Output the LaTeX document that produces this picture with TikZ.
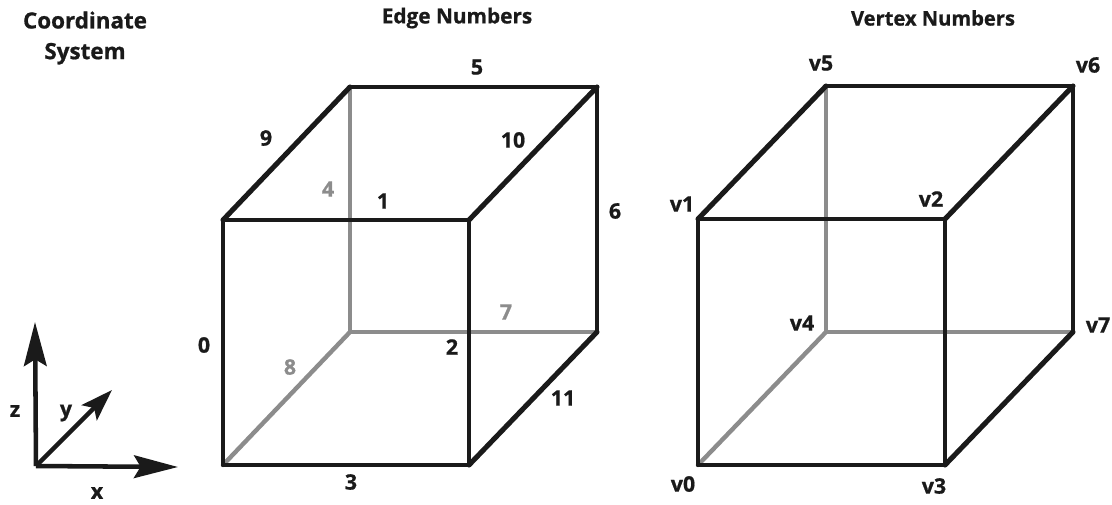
\documentclass[tikz,border=0pt]{standalone}
\usepackage{fontspec}
\setmainfont{Open Sans}[FakeBold=0.8]
\usetikzlibrary{arrows.meta}
\definecolor{ink}{HTML}{1A1A1A}
\definecolor{hid}{HTML}{8C8C8C}
\tikzset{
  front/.style={draw=ink,line width=3.2pt,line cap=round},
  slant/.style={draw=ink,line width=3.8pt,line cap=round},
  hidden/.style={draw=hid,line width=3.3pt},
  axis/.style={draw=ink,line width=3.4pt,-{Stealth[length=33pt,width=17pt,inset=5pt]}},
  axisy/.style={draw=ink,line width=3.4pt,-{Stealth[length=24pt,width=16pt,inset=5pt]}},
  lab/.style={font=\bfseries\fontsize{16pt}{18pt}\selectfont,text=ink,inner sep=0pt},
  glab/.style={font=\bfseries\fontsize{16pt}{18pt}\selectfont,text=hid,inner sep=0pt},
  title/.style={text=ink,inner sep=0pt,align=center}
}
\begin{document}
\begin{tikzpicture}[x=0.75pt,y=-0.75pt]
\useasboundingbox (0,0) rectangle (1112,504);
% titles
\node[title,font=\bfseries\fontsize{16.8pt}{23pt}\selectfont] (t1) at (85,38) {Coordinate\\System};
\node[title,font=\bfseries\fontsize{15.6pt}{18pt}\selectfont] (t2) at (457,18) {Edge Numbers};
\node[title,font=\bfseries\fontsize{15.1pt}{18pt}\selectfont] (t3) at (933,18) {Vertex Numbers};
% axes
\coordinate (o) at (36,466);
\coordinate (zt) at (35,322);
\coordinate (xt) at (178,467);
\coordinate (yt) at (112,390);
\draw[axis] (o) -- (zt);
\draw[axis] (o) -- (xt);
\draw[axisy] (o) -- (yt);
\node[lab] (lz) at (15,411) {z};
\node[lab] (ly) at (66,413) {y};
\node[lab] (lx) at (97,493) {x};
% cube 1
\coordinate (a0) at (223,465);
\coordinate (a1) at (223,220);
\coordinate (a2) at (469,220);
\coordinate (a3) at (469,465);
\coordinate (a4) at (350,332);
\coordinate (a5) at (350,87);
\coordinate (a6) at (597,87);
\coordinate (a7) at (597,332);
\draw[hidden] (a4) -- (a5);
\draw[hidden] (a4) -- (a7);
\draw[hidden] (a0) -- (a4);
\draw[front] (a0) -- (a1);
\draw[front] (a1) -- (a2);
\draw[front] (a2) -- (a3);
\draw[front] (a3) -- (a0);
\draw[front] (a5) -- (a6);
\draw[front] (a6) -- (a7);
\draw[slant] (a1) -- (a5);
\draw[slant] (a2) -- (a6);
\draw[slant] (a3) -- (a7);
\node[lab] (e0) at (204,345) {0};
\node[lab] (e1) at (383,201) {1};
\node[lab] (e2) at (452,347) {2};
\node[lab] (e3) at (351,482) {3};
\node[glab] (e4) at (328,189) {4};
\node[lab] (e5) at (477,67) {5};
\node[lab] (e6) at (615,211) {6};
\node[glab] (e7) at (506,312) {7};
\node[glab] (e8) at (290,367) {8};
\node[lab] (e9) at (266,138) {9};
\node[lab] (e10) at (513,140) {10};
\node[lab] (e11) at (563,398) {11};
% cube 2
\coordinate (b0) at (698,465);
\coordinate (b1) at (698,219);
\coordinate (b2) at (945,219);
\coordinate (b3) at (945,465);
\coordinate (b4) at (826,332);
\coordinate (b5) at (826,86);
\coordinate (b6) at (1073,86);
\coordinate (b7) at (1073,332);
\draw[hidden] (b4) -- (b5);
\draw[hidden] (b4) -- (b7);
\draw[hidden] (b0) -- (b4);
\draw[front] (b0) -- (b1);
\draw[front] (b1) -- (b2);
\draw[front] (b2) -- (b3);
\draw[front] (b3) -- (b0);
\draw[front] (b5) -- (b6);
\draw[front] (b6) -- (b7);
\draw[slant] (b1) -- (b5);
\draw[slant] (b2) -- (b6);
\draw[slant] (b3) -- (b7);
\node[lab] (v0) at (683,484) {v0};
\node[lab] (v1) at (682,204) {v1};
\node[lab] (v2) at (931,199) {v2};
\node[lab] (v3) at (934,486) {v3};
\node[lab] (v4) at (802,323) {v4};
\node[lab] (v5) at (821,63) {v5};
\node[lab] (v6) at (1088,65) {v6};
\node[lab] (v7) at (1098,325) {v7};
\end{tikzpicture}
\end{document}
